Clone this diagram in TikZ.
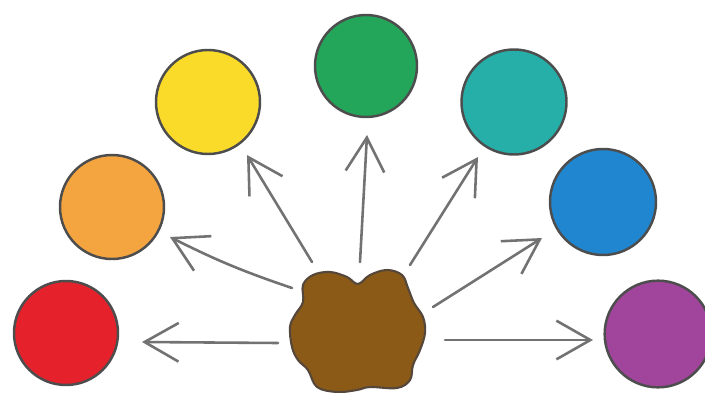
\documentclass[tikz,border=0pt]{standalone}
\usetikzlibrary{arrows.meta}
\definecolor{cred}{HTML}{E5222B}
\definecolor{corange}{HTML}{F4A540}
\definecolor{cyellow}{HTML}{FADB2A}
\definecolor{cgreen}{HTML}{24A65A}
\definecolor{cteal}{HTML}{26AFA9}
\definecolor{cblue}{HTML}{1F86CF}
\definecolor{cpurple}{HTML}{A1449B}
\definecolor{cbrown}{HTML}{8C5A17}
\definecolor{outl}{HTML}{4D4D4D}
\definecolor{blobline}{HTML}{55473A}
\definecolor{arrc}{HTML}{727272}
\begin{document}
\begin{tikzpicture}[x=0.03cm,y=-0.03cm,
  ball/.style={circle, draw=outl, line width=2.1pt, inner sep=0pt},
  arr/.style={draw=arrc, line width=2.2pt, line cap=round, line join=round,
    -{Straight Barb[length=29pt,width=33pt,line width=2.2pt]}}]
\useasboundingbox (0,0) rectangle (705,392);
\fill[white] (0,0) rectangle (705,392);
% coloured balls
\node[ball, fill=cred,    minimum size=3.12cm] (red)    at (66,333) {};
\node[ball, fill=corange, minimum size=3.12cm] (orange) at (112,207) {};
\node[ball, fill=cyellow, minimum size=3.12cm] (yellow) at (208,102) {};
\node[ball, fill=cgreen,  minimum size=3.06cm] (green)  at (366,66) {};
\node[ball, fill=cteal,   minimum size=3.15cm] (teal)   at (514,102) {};
\node[ball, fill=cblue,   minimum size=3.18cm] (blue)   at (603,202) {};
\node[ball, fill=cpurple, minimum size=3.2cm]  (purple) at (658,334) {};
% brown blob
\draw[draw=blobline, fill=cbrown, line width=1.8pt]
  plot[smooth cycle, tension=0.6] coordinates {(303,285) (313,275) (330,272) (347,277) (358,284) (370,275) (387,270) (402,275) (408,288) (414,303) (423,317) (425,333) (420,350) (413,365) (410,380) (397,388) (370,387) (357,390) (337,392) (317,387) (308,370) (298,360) (292,347) (290,327) (295,315) (303,302)};
\coordinate (blob) at (358,330);
% arrow ends
\coordinate (tR) at (278,343); \coordinate (hR) at (142,342);
\coordinate (tO) at (292,288); \coordinate (hO) at (170,237);
\coordinate (tY) at (312,262); \coordinate (hY) at (247,155);
\coordinate (tG) at (360,262); \coordinate (hG) at (367,135);
\coordinate (tT) at (410,265); \coordinate (hT) at (478,157);
\coordinate (tB) at (433,307); \coordinate (hB) at (542,238);
\coordinate (tP) at (445,340); \coordinate (hP) at (593,340);
\draw[arr] (tR) -- (hR);
\draw[arr] (tO) to[bend left=4] (hO);
\draw[arr] (tY) -- (hY);
\draw[arr] (tG) -- (hG);
\draw[arr] (tT) -- (hT);
\draw[arr] (tB) -- (hB);
\draw[arr] (tP) -- (hP);
\end{tikzpicture}
\end{document}
